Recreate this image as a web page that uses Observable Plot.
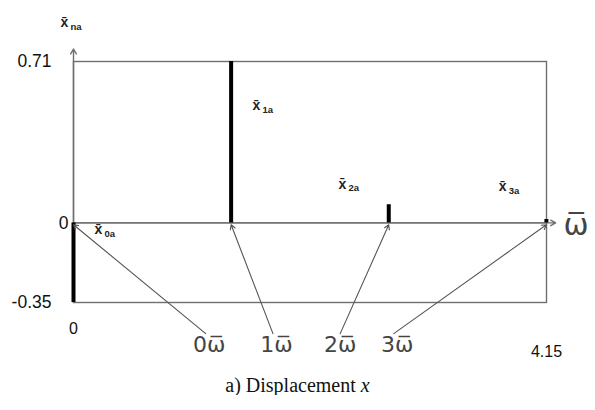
<!DOCTYPE html>
<html>
<head>
<meta charset="utf-8">
<script src="https://cdn.jsdelivr.net/npm/d3@7"></script>
<script src="https://cdn.jsdelivr.net/npm/@observablehq/plot@0.6"></script>
<style>
  html, body { margin: 0; padding: 0; background: #fff; }
  #chart svg { display: block; }
  #caption {
    width: 595px; text-align: center;
    font-family: "Liberation Serif", "Times New Roman", serif;
    font-size: 20px; line-height: 20px; padding-top: 10px; color: #111;
  }
</style>
</head>
<body>
<div id="chart"></div>
<div id="caption">a) Displacement <i>x</i></div>
<script>
// Harmonic spectrum of the displacement: order, frequency and amplitude
const harmonicOrder = [0, 1, 2, 3];
const frequency = [0, 1.383, 2.766, 4.149];
const amplitude = [-0.35, 0.71, 0.08, 0.015];
const spikeSub = ["0a", "1a", "2a", "3a"];

// Axis ticks
const yTickValues = [0.71, 0, -0.35];
const yTickLabels = ["0.71", "0", "-0.35"];
const xTickValues = [0, 4.15];
const xTickLabels = ["0", "4.15"];

// Annotation anchors (data units): amplitude labels and the harmonic pointer labels
const ampLabelX = [0.184, 1.57, 2.325, 3.73];
const ampLabelY = [-0.03, 0.515, 0.17, 0.16];
const pointerLabelX = [1.19, 1.78, 2.34, 2.84];
const pointerStartX = [1.16, 1.75, 2.34, 2.81];
const pointerLabelY = -0.535;
const pointerStartY = -0.487;

const spikes = harmonicOrder.map((k, i) => ({k, f: frequency[i], a: amplitude[i]}));
const ampLabels = harmonicOrder.map((k, i) => ({x: ampLabelX[i], y: ampLabelY[i], sub: spikeSub[i]}));
const pointers = harmonicOrder.map((k, i) => ({
  x1: pointerStartX[i], y1: pointerStartY, x2: frequency[i], y2: -0.008,
  lx: pointerLabelX[i], ly: pointerLabelY, label: k + "ω\u0305"
}));
const yTicks = yTickValues.map((v, i) => ({v, t: yTickLabels[i]}));

const grey = "#6f6f6f";
const sans = "Liberation Sans, Arial, sans-serif";

const chart = Plot.plot({
  width: 595,
  height: 365,
  marginLeft: 73,
  marginRight: 49,
  marginTop: 61,
  marginBottom: 63,
  x: {domain: [0, 4.15], axis: null},
  y: {domain: [-0.35, 0.71], axis: null},
  style: {fontFamily: sans, background: "white"},
  marks: [
    Plot.frame({stroke: grey, strokeWidth: 1.4}),
    Plot.ruleY([0], {stroke: grey, strokeWidth: 1.4}),
    // axis arrows
    Plot.arrow([{x1: 0, y1: -0.35, x2: 0, y2: 0.765}], {x1: "x1", y1: "y1", x2: "x2", y2: "y2", stroke: grey, strokeWidth: 1.4, headLength: 6}),
    Plot.arrow([{x1: 0, y1: 0, x2: 4.23, y2: 0}], {x1: "x1", y1: "y1", x2: "x2", y2: "y2", stroke: grey, strokeWidth: 1.4, headLength: 6}),
    // spectral lines
    Plot.ruleX(spikes, {x: "f", y1: 0, y2: "a", stroke: "#000", strokeWidth: 4}),
    // pointers from the harmonic labels to each line
    Plot.arrow(pointers, {x1: "x1", y1: "y1", x2: "x2", y2: "y2", stroke: "#555", strokeWidth: 1.1, headLength: 7}),
    Plot.text(pointers, {x: "lx", y: "ly", text: "label", fontSize: 22, fill: "#444", fontFamily: "DejaVu Sans"}),
    // y tick labels
    Plot.text(yTicks.filter(d => d.v !== 0), {x: 0, y: "v", text: "t", textAnchor: "end", dx: -22, fontSize: 17.5, fill: "#111"}),
    Plot.text(yTicks.filter(d => d.v === 0), {x: 0, y: "v", text: "t", textAnchor: "end", dx: -5, fontSize: 17.5, fill: "#111"}),
    // x tick labels
    Plot.text([xTickLabels[0]], {x: xTickValues[0], y: -0.35, text: d => d, dy: 26, fontSize: 16, fill: "#111"}),
    Plot.text([xTickLabels[1]], {x: xTickValues[1], y: -0.35, text: d => d, dy: 49, fontSize: 16, fill: "#111"}),
    // frequency axis symbol
    Plot.text(["ω\u0305"], {x: 4.15, y: 0, text: d => d, textAnchor: "start", dx: 17, dy: 2, fontSize: 30, fill: "#444", fontFamily: "DejaVu Sans"}),
    // amplitude labels  x̄_na
    Plot.text(ampLabels, {x: "x", y: "y", text: () => "x\u0304", textAnchor: "start", fontSize: 14, fontWeight: "bold", fill: "#222"}),
    Plot.text(ampLabels, {x: "x", y: "y", text: "sub", textAnchor: "start", dx: 10, dy: 4, fontSize: 9.5, fontWeight: "bold", fill: "#222"}),
    Plot.text(["x\u0304"], {x: 0, y: 0.88, text: d => d, textAnchor: "start", dx: -13, fontSize: 14, fontWeight: "bold", fill: "#222"}),
    Plot.text(["na"], {x: 0, y: 0.88, text: d => d, textAnchor: "start", dx: -3, dy: 4, fontSize: 9.5, fontWeight: "bold", fill: "#222"})
  ]
});

document.getElementById("chart").appendChild(chart);
</script>
</body>
</html>
